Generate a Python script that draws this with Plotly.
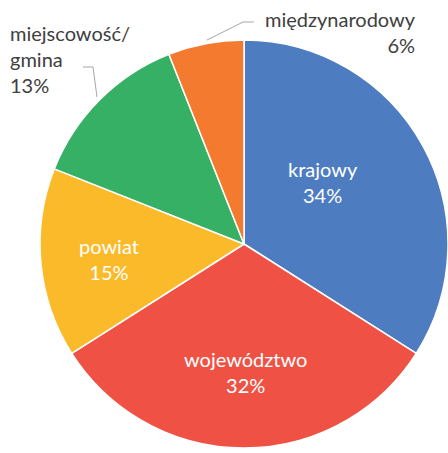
import plotly.graph_objects as go

labels = ["krajowy", "województwo", "powiat", "miejscowość/<br>gmina", "międzynarodowy"]
values = [34, 32, 15, 13, 6]
colors = ["#4E7CC0", "#EF5244", "#FBBA2A", "#35B064", "#F47A30"]

W, H = 448, 453

def px(x):
    return x / W

def py(y):
    return 1 - y / H

FONT = "Lato"
FS = 20

fig = go.Figure(go.Pie(
    labels=labels,
    values=values,
    sort=False,
    direction="clockwise",
    rotation=0,
    marker=dict(colors=colors, line=dict(color="white", width=1.5)),
    textinfo="none",
    hoverinfo="label+percent",
    showlegend=False,
    domain=dict(x=[px(40), 1.0], y=[py(450), py(38)]),
))

font_in = dict(family=FONT, size=FS, color="white")
font_out = dict(family=FONT, size=FS, color="#404040")

# data label placement (pixel centres / anchors), one per slice
label_specs = [
    (323, 182, "center", font_in),   # krajowy
    (245, 372, "center", font_in),   # województwo
    (109, 259, "center", font_in),   # powiat
    (8, 59, "left", font_out),       # miejscowość/gmina
    (418, 32, "right", font_out),    # międzynarodowy
]
for (x, y, anchor, f), lab, val in zip(label_specs, labels, values):
    fig.add_annotation(x=px(x), y=py(y), xref="paper", yref="paper",
                       text=f"{lab}<br>{val}%", showarrow=False,
                       xanchor=anchor, yanchor="middle", align=anchor, font=f)

# leader lines
line_style = dict(color="#A6A6A6", width=1)
fig.add_shape(type="path", xref="paper", yref="paper",
              path=f"M {px(207)} {py(40)} L {px(243)} {py(22)} L {px(254)} {py(22)}",
              line=line_style)
fig.add_shape(type="path", xref="paper", yref="paper",
              path=f"M {px(83)} {py(67)} L {px(93)} {py(67)} L {px(97)} {py(97)}",
              line=line_style)

fig.update_layout(
    width=W, height=H,
    margin=dict(l=0, r=0, t=0, b=0),
    paper_bgcolor="white",
    plot_bgcolor="white",
)

fig.write_html(
    "out.html",
    config={"displayModeBar": False},
    post_script="document.body.style.margin='0';document.body.style.overflow='hidden';",
)
